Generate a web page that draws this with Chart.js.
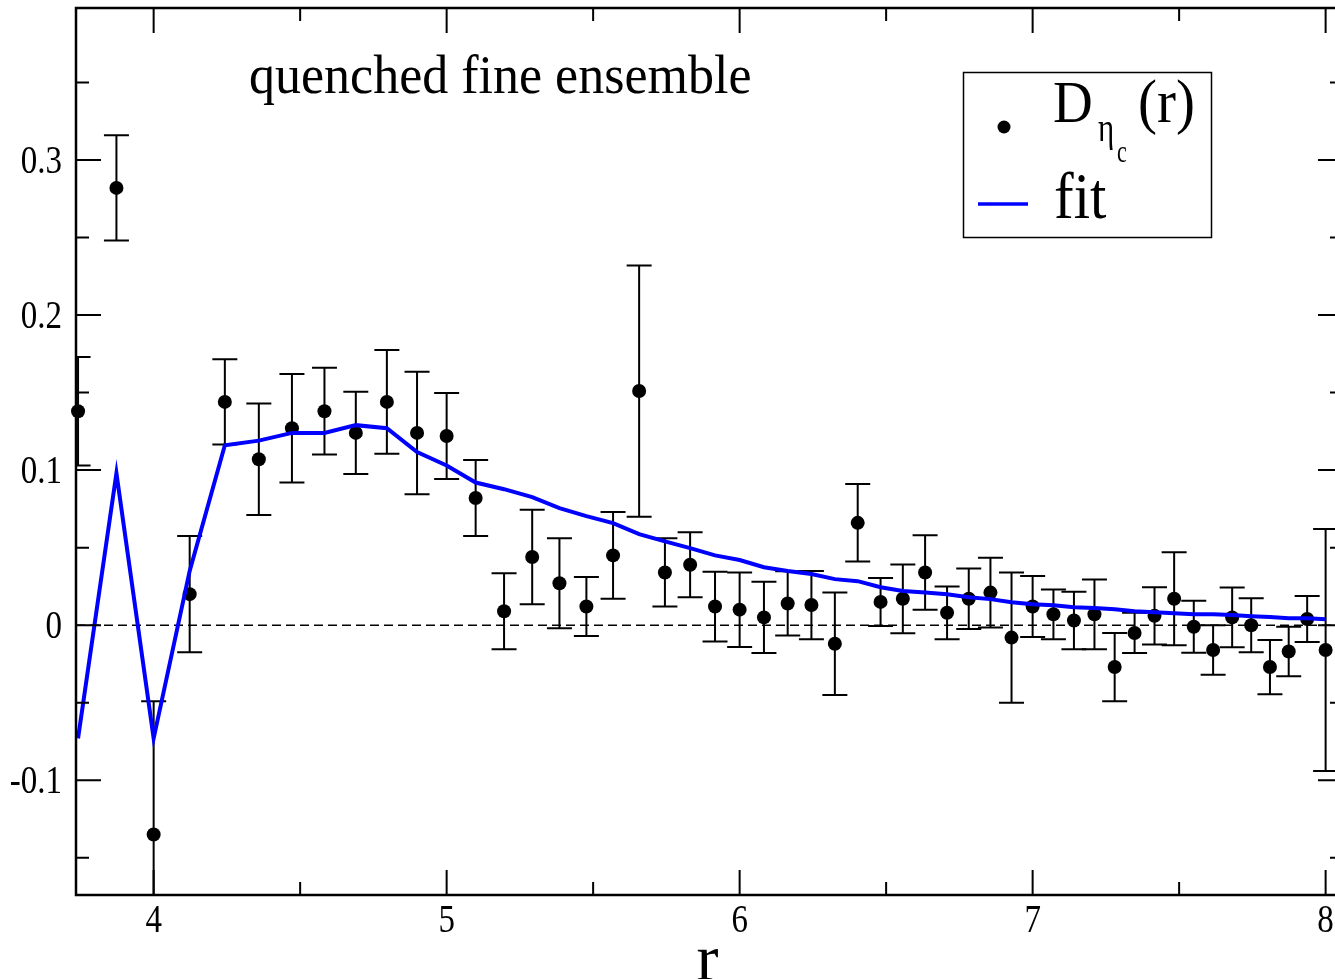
<!DOCTYPE html>
<html><head><meta charset="utf-8">
<script src="https://cdn.jsdelivr.net/npm/chart.js@4"></script>
<style>html,body{margin:0;padding:0;background:#fff;overflow:hidden}canvas{display:block}</style>
</head><body>
<canvas id="c" width="1335" height="979"></canvas>
<script>
const rValues = [3.742, 3.873, 4.000, 4.123, 4.243, 4.359, 4.472, 4.583, 4.690, 4.796,
  4.899, 5.000, 5.099, 5.196, 5.292, 5.385, 5.477, 5.568, 5.657, 5.745,
  5.831, 5.916, 6.000, 6.083, 6.164, 6.245, 6.325, 6.403, 6.481, 6.557,
  6.633, 6.708, 6.782, 6.856, 6.928, 7.000, 7.071, 7.141, 7.211, 7.280,
  7.348, 7.416, 7.483, 7.550, 7.616, 7.681, 7.746, 7.810, 7.874, 7.937, 8.000];
const dValues = [0.138, 0.282, -0.135, 0.020, 0.144, 0.107, 0.127, 0.138, 0.124, 0.144,
  0.124, 0.122, 0.082, 0.009, 0.044, 0.027, 0.012, 0.045, 0.151, 0.034,
  0.039, 0.012, 0.010, 0.005, 0.014, 0.013, -0.012, 0.066, 0.015, 0.017,
  0.034, 0.008, 0.017, 0.021, -0.008, 0.012, 0.007, 0.003, 0.007, -0.027,
  -0.005, 0.006, 0.017, -0.001, -0.016, 0.005, 0.000, -0.027, -0.017, 0.004, -0.016];
const dErrors = [0.035, 0.034, 0.086, 0.0375, 0.0275, 0.036, 0.035, 0.028, 0.0265, 0.0335,
  0.0395, 0.0277, 0.0245, 0.0245, 0.0305, 0.029, 0.019, 0.028, 0.081, 0.022,
  0.021, 0.0225, 0.024, 0.023, 0.0207, 0.022, 0.033, 0.025, 0.0155, 0.0222,
  0.024, 0.017, 0.0195, 0.0225, 0.042, 0.0197, 0.016, 0.0185, 0.0225, 0.022,
  0.013, 0.0184, 0.030, 0.0168, 0.016, 0.0193, 0.0174, 0.0175, 0.016, 0.0148, 0.078];
const fitValues = [-0.073, 0.098, -0.073, 0.035, 0.116, 0.119, 0.124, 0.124, 0.129, 0.127,
  0.1116, 0.103, 0.092, 0.0877, 0.0826, 0.0755, 0.0703, 0.0658, 0.0587, 0.054,
  0.0497, 0.045, 0.042, 0.0374, 0.035, 0.033, 0.0297, 0.0284, 0.0245, 0.022,
  0.021, 0.020, 0.018, 0.0168, 0.0148, 0.0135, 0.0129, 0.0116, 0.011, 0.0103,
  0.009, 0.0084, 0.0077, 0.0071, 0.007, 0.0065, 0.0058, 0.0052, 0.0045, 0.0045, 0.0039];

const xTickValues = [4, 5, 6, 7, 8];
const xTickLabels = ['4', '5', '6', '7', '8'];
const xMinorTicks = [4.5, 5.5, 6.5, 7.5];
const yTickValues = [-0.1, 0, 0.1, 0.2, 0.3];
const yTickLabels = ['-0.1', '0', '0.1', '0.2', '0.3'];
const yMinorTicks = [-0.15, -0.05, 0.05, 0.15, 0.25, 0.35];

const SERIF = '"Liberation Serif", "Times New Roman", serif';

function stretchText(ctx, str, x, baseline, px, sy, align) {
  ctx.save();
  ctx.translate(x, baseline);
  ctx.scale(1, sy);
  ctx.font = px + 'px ' + SERIF;
  ctx.textAlign = align || 'left';
  ctx.textBaseline = 'alphabetic';
  ctx.fillText(str, 0, 0);
  ctx.restore();
}

const decor = {
  id: 'decor',
  beforeDatasetsDraw(chart) {
    const {ctx, chartArea: a, scales: {x, y}} = chart;
    ctx.save();
    ctx.beginPath();
    ctx.rect(a.left, a.top, a.right - a.left, a.bottom - a.top);
    ctx.clip();
    ctx.strokeStyle = '#000';
    ctx.lineWidth = 1.5;
    ctx.setLineDash([9, 5]);
    const y0 = y.getPixelForValue(0);
    ctx.beginPath(); ctx.moveTo(a.left, y0); ctx.lineTo(a.right, y0); ctx.stroke();
    ctx.setLineDash([]);
    ctx.lineWidth = 2;
    rValues.forEach((r, i) => {
      const px = x.getPixelForValue(r);
      const t = y.getPixelForValue(dValues[i] + dErrors[i]);
      const b = y.getPixelForValue(dValues[i] - dErrors[i]);
      ctx.beginPath();
      ctx.moveTo(px, t); ctx.lineTo(px, b);
      ctx.moveTo(px - 12.5, t); ctx.lineTo(px + 12.5, t);
      ctx.moveTo(px - 12.5, b); ctx.lineTo(px + 12.5, b);
      ctx.stroke();
    });
    ctx.restore();
  },
  afterDraw(chart) {
    const {ctx, chartArea: a, scales: {x, y}} = chart;
    const right = a.right + 8;
    ctx.save();
    ctx.strokeStyle = '#000';
    ctx.fillStyle = '#000';
    ctx.lineWidth = 2.5;
    ctx.strokeRect(a.left, a.top, right - a.left, a.bottom - a.top);
    ctx.lineWidth = 2;
    const tick = (v, len, horiz) => {
      ctx.beginPath();
      if (horiz) {
        const px = x.getPixelForValue(v);
        ctx.moveTo(px, a.bottom); ctx.lineTo(px, a.bottom - len);
        ctx.moveTo(px, a.top); ctx.lineTo(px, a.top + len);
      } else {
        const py = y.getPixelForValue(v);
        ctx.moveTo(a.left, py); ctx.lineTo(a.left + len, py);
        ctx.moveTo(right, py); ctx.lineTo(right - len, py);
      }
      ctx.stroke();
    };
    xTickValues.forEach(v => tick(v, 25, true));
    xMinorTicks.forEach(v => tick(v, 13, true));
    yTickValues.forEach(v => tick(v, 25, false));
    yMinorTicks.forEach(v => tick(v, 13, false));

    xTickValues.forEach((v, i) => stretchText(ctx, xTickLabels[i], x.getPixelForValue(v), a.bottom + 37, 33, 1.22, 'center'));
    yTickValues.forEach((v, i) => stretchText(ctx, yTickLabels[i], a.left - 14, y.getPixelForValue(v) + 13, 33, 1.22, 'right'));

    stretchText(ctx, 'r', (a.left + a.right) / 2 + 2, 980, 66, 1.0, 'center');

    stretchText(ctx, 'quenched fine ensemble', 249, 93, 52, 1.06, 'left');

    ctx.lineWidth = 1.5;
    ctx.strokeRect(963.5, 72.5, 248, 165);
    ctx.beginPath(); ctx.arc(1004, 127, 6.5, 0, Math.PI * 2); ctx.fill();
    ctx.strokeStyle = '#0000ff';
    ctx.lineWidth = 3.5;
    ctx.beginPath(); ctx.moveTo(978, 204); ctx.lineTo(1028, 204); ctx.stroke();
    stretchText(ctx, 'D', 1053, 122, 55, 1.08);
    stretchText(ctx, '\u03B7', 1098, 141, 31, 1.3);
    stretchText(ctx, 'c', 1117, 162, 22, 1.4);
    stretchText(ctx, '(r)', 1138, 122, 57, 1.08);
    stretchText(ctx, 'fit', 1054, 218, 59, 1.1);
    ctx.restore();
  }
};

function noPad(s) { s.paddingTop = 0; s.paddingBottom = 0; s.paddingLeft = 0; s.paddingRight = 0; }

new Chart(document.getElementById('c'), {
  type: 'scatter',
  data: {
    datasets: [
      {
        type: 'line',
        label: 'fit',
        data: rValues.map((r, i) => ({x: r, y: fitValues[i]})),
        borderColor: '#0000ff',
        borderWidth: 4,
        pointRadius: 0,
        tension: 0,
        fill: false,
        order: 0
      },
      {
        label: 'D',
        data: rValues.map((r, i) => ({x: r, y: dValues[i]})),
        backgroundColor: '#000',
        borderWidth: 0,
        pointRadius: 7,
        pointHoverRadius: 7,
        clip: false,
        order: 1
      }
    ]
  },
  options: {
    responsive: false,
    animation: false,
    events: [],
    layout: {autoPadding: false, padding: {top: 8, right: 0, left: 0, bottom: 0}},
    plugins: {legend: {display: false}, tooltip: {enabled: false}, title: {display: false}},
    scales: {
      x: {
        type: 'linear', min: 3.735, max: 8.032,
        grid: {display: false, drawTicks: false},
        border: {display: false},
        afterFit(s) { s.height = 84; noPad(s); },
        afterBuildTicks(s) { s.ticks = xTickValues.map(v => ({value: v})); },
        ticks: {display: false, includeBounds: false}
      },
      y: {
        type: 'linear', min: -0.174, max: 0.398,
        grid: {display: false, drawTicks: false},
        border: {display: false},
        afterFit(s) { s.width = 76; noPad(s); },
        afterBuildTicks(s) { s.ticks = yTickValues.map(v => ({value: v})); },
        ticks: {display: false, includeBounds: false}
      }
    }
  },
  plugins: [decor]
});
</script>
</body></html>
